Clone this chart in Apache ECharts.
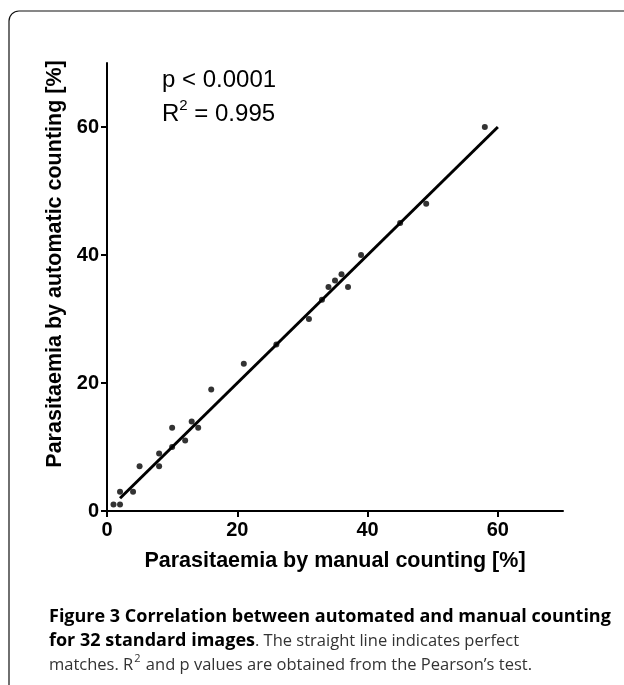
<!DOCTYPE html>
<html>
<head>
<meta charset="utf-8">
<script src="https://cdn.jsdelivr.net/npm/echarts@6/dist/echarts.min.js"></script>
<style>
html,body{margin:0;padding:0;background:#fff;}
#chart{width:624px;height:685px;}
</style>
</head>
<body>
<div id="chart"></div>
<script>
// Data
const manualCounting    = [1, 2, 2, 4, 5, 8, 8, 10, 10, 12, 13, 14, 16, 21, 26, 31, 33, 34, 35, 36, 37, 39, 45, 49, 58];
const automaticCounting = [1, 1, 3, 3, 7, 9, 7, 13, 10, 11, 14, 13, 19, 23, 26, 30, 33, 35, 36, 37, 35, 40, 45, 48, 60];
const identityX = [2, 60];
const identityY = [2, 60];
const tickValues = [0, 20, 40, 60];
const xAxisTitle = 'Parasitaemia by manual counting [%]';
const yAxisTitle = 'Parasitaemia by automatic counting [%]';

const chart = echarts.init(document.getElementById('chart'), null, {renderer: 'canvas'});

const points = manualCounting.map((x, i) => [x, automaticCounting[i]]);
const linePts = identityX.map((x, i) => [x, identityY[i]]);

const axisFont = 'Liberation Sans, Arial, sans-serif';
const capFont = 'Open Sans, sans-serif';

function axisCommon() {
  return {
    type: 'value',
    min: 0, max: 70, interval: 10,
    splitLine: {show: false},
    axisLine: {show: true, onZero: false, lineStyle: {color: '#000', width: 2}},
    axisTick: {show: true, length: 6, customValues: tickValues, lineStyle: {color: '#000', width: 2}},
    axisLabel: {customValues: tickValues, color: '#000', fontFamily: axisFont, fontWeight: 'bold', fontSize: 20},
    nameLocation: 'middle',
    nameTextStyle: {color: '#000', fontFamily: axisFont, fontWeight: 'bold', fontSize: 21.5}
  };
}

const xAx = axisCommon();
xAx.name = xAxisTitle;
xAx.nameGap = 39;
xAx.axisLabel.margin = 9;

const yAx = axisCommon();
yAx.name = yAxisTitle;
yAx.nameGap = 33;
yAx.axisLabel.margin = 8;
yAx.nameTextStyle.padding = [0, 0, 0, 46];

chart.setOption({
  animation: false,
  backgroundColor: '#fff',
  grid: {left: 107, top: 63, width: 456, height: 448, containLabel: false},
  xAxis: xAx,
  yAxis: yAx,
  series: [
    {
      type: 'line',
      data: linePts,
      symbol: 'none',
      lineStyle: {color: '#000', width: 3},
      z: 2
    },
    {
      type: 'scatter',
      data: points,
      symbol: 'circle',
      symbolSize: 6,
      itemStyle: {color: '#000'},
      z: 3
    }
  ],
  graphic: [
    // figure frame (top rule with rounded corner, left rule)
    {
      type: 'rect',
      shape: {x: 9, y: 11, width: 800, height: 800, r: [10, 0, 0, 0]},
      style: {stroke: '#111', lineWidth: 1.2, fill: null},
      silent: true
    },
    {
      type: 'text', left: 162, top: 68,
      style: {text: 'p < 0.0001', fill: '#000', font: '24px Liberation Sans, Arial, sans-serif'}
    },
    {
      type: 'text', left: 162, top: 98,
      style: {
        text: '{n|R}{s|2}{n| = 0.995}',
        rich: {
          n: {fill: '#000', fontSize: 24, fontFamily: axisFont, verticalAlign: 'bottom', lineHeight: 28},
          s: {fill: '#000', fontSize: 15, fontFamily: axisFont, verticalAlign: 'top', lineHeight: 28, padding: [0, 0, 10, 0]}
        }
      }
    },
    {
      type: 'text', x: 49, y: 617,
      style: {
        verticalAlign: 'middle',
        text: '{b|Figure 3 Correlation between automated and manual counting}',
        rich: {b: {fill: '#000', fontSize: 18, fontWeight: 'bold', fontFamily: capFont}}
      }
    },
    {
      type: 'text', x: 49, y: 641,
      style: {
        verticalAlign: 'middle',
        text: '{b|for 32 standard images}{r|. The straight line indicates perfect}',
        rich: {
          b: {fill: '#000', fontSize: 18, fontWeight: 'bold', fontFamily: capFont, lineHeight: 24},
          r: {fill: '#333', fontSize: 16.5, fontFamily: capFont, lineHeight: 24}
        }
      }
    },
    {
      type: 'text', x: 49, y: 665,
      style: {
        verticalAlign: 'middle',
        text: '{r|matches. R}{s|2}{r| and p values are obtained from the Pearson\u2019s test.}',
        rich: {
          r: {fill: '#333', fontSize: 16.5, fontFamily: capFont, lineHeight: 24, verticalAlign: 'middle'},
          s: {fill: '#333', fontSize: 11, fontFamily: capFont, lineHeight: 24, verticalAlign: 'middle', padding: [0, 1, 12, 1]}
        }
      }
    }
  ]
});
</script>
</body>
</html>
